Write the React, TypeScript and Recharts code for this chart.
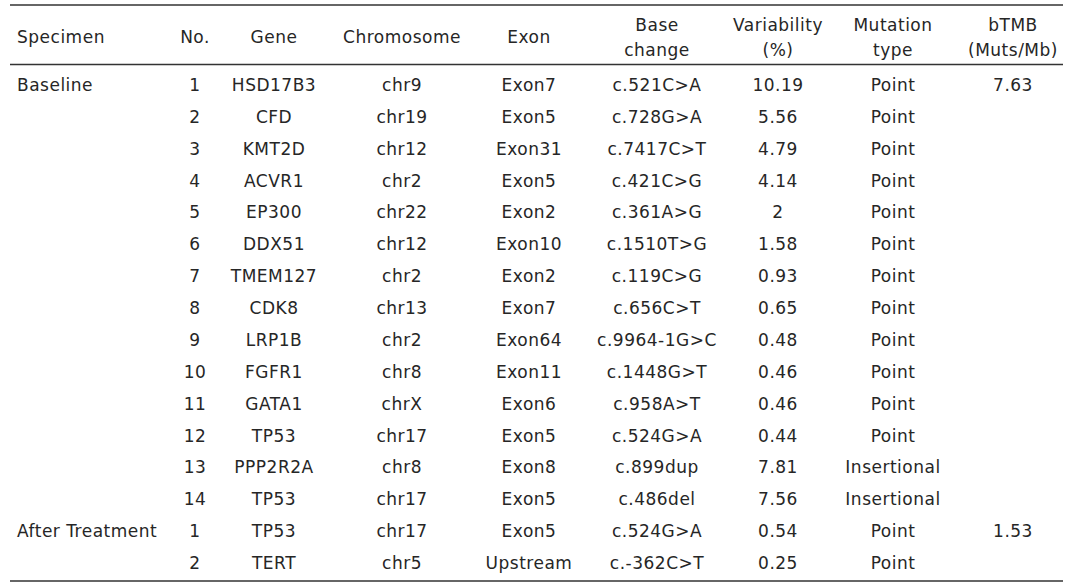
import { ScatterChart, Scatter, XAxis, YAxis, ReferenceLine } from "recharts";

const headers = [
  ["Specimen"],
  ["No."],
  ["Gene"],
  ["Chromosome"],
  ["Exon"],
  ["Base", "change"],
  ["Variability", "(%)"],
  ["Mutation", "type"],
  ["bTMB", "(Muts/Mb)"],
];

const specimens = ["Baseline", "After Treatment"];
const specimenStartRows = [1, 15];
const bTMB = ["7.63", "1.53"];

const nos = ["1", "2", "3", "4", "5", "6", "7", "8", "9", "10", "11", "12", "13", "14", "1", "2"];
const genes = [
  "HSD17B3", "CFD", "KMT2D", "ACVR1", "EP300", "DDX51", "TMEM127", "CDK8",
  "LRP1B", "FGFR1", "GATA1", "TP53", "PPP2R2A", "TP53", "TP53", "TERT",
];
const chromosomes = [
  "chr9", "chr19", "chr12", "chr2", "chr22", "chr12", "chr2", "chr13",
  "chr2", "chr8", "chrX", "chr17", "chr8", "chr17", "chr17", "chr5",
];
const exons = [
  "Exon7", "Exon5", "Exon31", "Exon5", "Exon2", "Exon10", "Exon2", "Exon7",
  "Exon64", "Exon11", "Exon6", "Exon5", "Exon8", "Exon5", "Exon5", "Upstream",
];
const baseChanges = [
  "c.521C>A", "c.728G>A", "c.7417C>T", "c.421C>G", "c.361A>G", "c.1510T>G", "c.119C>G", "c.656C>T",
  "c.9964-1G>C", "c.1448G>T", "c.958A>T", "c.524G>A", "c.899dup", "c.486del", "c.524G>A", "c.-362C>T",
];
const variability = [
  "10.19", "5.56", "4.79", "4.14", "2", "1.58", "0.93", "0.65",
  "0.48", "0.46", "0.46", "0.44", "7.81", "7.56", "0.54", "0.25",
];
const mutationTypes = [
  "Point", "Point", "Point", "Point", "Point", "Point", "Point", "Point",
  "Point", "Point", "Point", "Point", "Insertional", "Insertional", "Point", "Point",
];

// layout
const W = 1080;
const H = 587;
const ROW_PX = 31.87;
const FIRST_ROW_PX = 85;
const yDomain = [1 - FIRST_ROW_PX / ROW_PX, 1 + (H - FIRST_ROW_PX) / ROW_PX];
const pxToRow = (px: number) => yDomain[0] + px / ROW_PX;
const colX = [17, 195, 274, 402, 529, 657, 778, 893, 1013];
const ruleLeft = 10;
const ruleRight = 1063;
const rules = [pxToRow(5), pxToRow(64.5), pxToRow(581)];
const HEADER_ROW = -0.5;

const FONT = "'DejaVu Sans', sans-serif";
const TEXT = "#262626";
const FS = 17;
const LS = 0.5;

const perRow = [nos, genes, chromosomes, exons, baseChanges, variability, mutationTypes];

const specimenCells = specimens.map((s, i) => ({ x: colX[0], y: specimenStartRows[i], label: s }));
const bTMBCells = bTMB.map((s, i) => ({ x: colX[8], y: specimenStartRows[i], label: s }));
const bodyColumns = perRow.map((vals, c) =>
  vals.map((v, r) => ({ x: colX[c + 1], y: r + 1, label: v }))
);
const headerCells = headers.map((lines, c) => ({ x: colX[c], y: HEADER_ROW, lines, anchor: c === 0 ? "start" : "middle" }));

const cellShape = (anchor: string) => (props: any) => (
  <text
    x={props.cx}
    y={props.cy}
    textAnchor={anchor}
    dominantBaseline="central"
    fontFamily={FONT}
    fontSize={FS}
    letterSpacing={LS}
    fill={TEXT}
  >
    {props.payload.label}
  </text>
);

const headerShape = (props: any) => {
  const lines: string[] = props.payload.lines;
  return (
    <text
      x={props.cx}
      y={props.cy}
      textAnchor={props.payload.anchor}
      dominantBaseline="central"
      fontFamily={FONT}
      fontSize={FS}
      letterSpacing={LS}
      fill={TEXT}
    >
      {lines.length === 1 ? (
        <tspan x={props.cx} dy={0}>{lines[0]}</tspan>
      ) : (
        lines.map((l, i) => (
          <tspan key={i} x={props.cx} dy={i === 0 ? -12.5 : 25}>
            {l}
          </tspan>
        ))
      )}
    </text>
  );
};

export default function App() {
  return (
    <div style={{ position: "absolute", left: 0, top: 0, width: W, height: H, background: "#fff" }}>
      <ScatterChart width={W} height={H} margin={{ top: 0, right: 0, bottom: 0, left: 0 }}>
        <XAxis type="number" dataKey="x" domain={[0, W]} allowDataOverflow hide />
        <YAxis type="number" dataKey="y" domain={yDomain} allowDataOverflow reversed hide />
        {rules.map((y, i) => (
          <ReferenceLine
            key={i}
            segment={[{ x: ruleLeft, y }, { x: ruleRight, y }]}
            stroke="#333"
            strokeWidth={1.5}
          />
        ))}
        <Scatter data={headerCells} shape={headerShape} isAnimationActive={false} />
        <Scatter data={specimenCells} shape={cellShape("start")} isAnimationActive={false} />
        {bodyColumns.map((d, i) => (
          <Scatter key={i} data={d} shape={cellShape("middle")} isAnimationActive={false} />
        ))}
        <Scatter data={bTMBCells} shape={cellShape("middle")} isAnimationActive={false} />
      </ScatterChart>
    </div>
  );
}
